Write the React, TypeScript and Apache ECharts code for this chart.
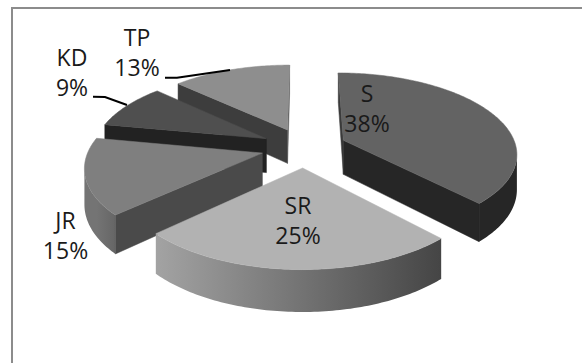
import { useEffect, useRef } from 'react';
import * as echarts from 'echarts';

// Slice data, clockwise from 12 o'clock
const categories = ['S', 'SR', 'JR', 'KD', 'TP'];
const shares = [38, 25, 15, 9, 13];

// Face colours per slice
const topColors = ['#636363', '#b2b2b2', '#7f7f7f', '#4f4f4f', '#8e8e8e'];
const startFaceColors = ['#3a3a3a', '#555555', '#4a4a4a', '#222222', '#3d3d3d'];
const endFaceColors = ['#262626', '#555555', '#4a4a4a', '#2a2a2a', '#5a5a5a'];
const wallStartColors = ['#2e2e2e', '#454545', '#666666', '#282828', '#3a3a3a'];
const wallEndColors = ['#262626', '#a3a3a3', '#747474', '#282828', '#3a3a3a'];

// Label block centres and leader lines
const labelAnchors: number[][] = [[367, 108], [298, 219.5], [65.5, 235], [72, 72], [137, 52]];
const leaders: (number[][] | null)[] = [
  null,
  null,
  null,
  [[93, 96.7], [105, 97], [127, 105]],
  [[165, 77.7], [177, 77.7], [230, 70]],
];

// Camera / solid parameters
const CX = 304;
const CY = 147.5;
const RX = 173;
const RY = 79.5;
const PERSP = 0.15;
const THICK = 34.5;
const EXPLODE = 0.248;

const total = shares.reduce((a, b) => a + b, 0);
const cumulative = shares.map((_, i) => shares.slice(0, i).reduce((a, b) => a + b, 0));

const rad = (d: number) => (d * Math.PI) / 180;

function project(X: number, Z: number, h: number): number[] {
  const w = 1 - PERSP * Z;
  return [CX + (RX * X) / w, CY + (RY * Z + h) / w];
}

function pt(deg: number, r: number, mid: number, h: number): number[] {
  const X = r * Math.sin(rad(deg)) + EXPLODE * Math.sin(rad(mid));
  const Z = -r * Math.cos(rad(deg)) - EXPLODE * Math.cos(rad(mid));
  return project(X, Z, h);
}

function signedArea(p: number[][]): number {
  let s = 0;
  for (let i = 0; i < p.length; i++) {
    const a = p[i];
    const b = p[(i + 1) % p.length];
    s += a[0] * b[1] - b[0] * a[1];
  }
  return s;
}

// Paint back slices first
const depthRank = (() => {
  const depth = shares.map((v, i) => {
    const mid = ((cumulative[i] + v / 2) / total) * 360;
    return -Math.cos(rad(mid));
  });
  const order = depth.map((d, i) => [d, i]).sort((a, b) => a[0] - b[0]);
  const rank: number[] = [];
  order.forEach((o, r) => (rank[o[1]] = r));
  return rank;
})();

function renderItem(params: any, api: any) {
  const i = params.dataIndex;
  const v = api.value(0) as number;
  const a0 = (cumulative[i] / total) * 360;
  const a1 = a0 + (v / total) * 360;
  const mid = (a0 + a1) / 2;
  const base = depthRank[i] * 100;
  const children: any[] = [];
  const poly = (points: number[][], fill: any, z: number) => ({
    type: 'polygon',
    shape: { points },
    style: { fill, stroke: fill, lineWidth: 0.5 },
    z2: base + z,
    silent: true,
  });

  const steps = Math.max(16, Math.ceil((a1 - a0) / 1));
  // outer wall: collect the front-facing angle range and draw it as one band
  let visFrom = -1;
  let visTo = -1;
  for (let k = 0; k < steps; k++) {
    const t0 = a0 + ((a1 - a0) * k) / steps;
    const t1 = a0 + ((a1 - a0) * (k + 1)) / steps;
    const q = [pt(t1, 1, mid, 0), pt(t0, 1, mid, 0), pt(t0, 1, mid, THICK), pt(t1, 1, mid, THICK)];
    if (signedArea(q) > 0) {
      if (visFrom < 0) visFrom = k;
      visTo = k + 1;
    }
  }
  if (visFrom >= 0) {
    const angs: number[] = [];
    for (let k = visFrom; k <= visTo; k++) angs.push(a0 + ((a1 - a0) * k) / steps);
    const upper = angs.map((t) => pt(t, 1, mid, 0));
    const lower = angs.map((t) => pt(t, 1, mid, THICK)).reverse();
    const pStart = pt(a0, 1, mid, 0);
    const pEnd = pt(a1, 1, mid, 0);
    const fill = new echarts.graphic.LinearGradient(
      pStart[0], 0, pEnd[0], 0,
      [
        { offset: 0, color: wallStartColors[i] },
        { offset: 1, color: wallEndColors[i] },
      ],
      true
    );
    children.push({
      type: 'polygon',
      shape: { points: upper.concat(lower) },
      style: { fill, lineWidth: 0 },
      z2: base + 1,
      silent: true,
    });
  }
  // radial cut faces
  const sf = [pt(a0, 1, mid, 0), pt(a0, 0, mid, 0), pt(a0, 0, mid, THICK), pt(a0, 1, mid, THICK)];
  if (signedArea(sf) > 0) children.push(poly(sf, startFaceColors[i], 2));
  const ef = [pt(a1, 0, mid, 0), pt(a1, 1, mid, 0), pt(a1, 1, mid, THICK), pt(a1, 0, mid, THICK)];
  if (signedArea(ef) > 0) children.push(poly(ef, endFaceColors[i], 2));
  // top face
  const top = [pt(a0, 0, mid, 0)];
  for (let k = 0; k <= steps; k++) top.push(pt(a0 + ((a1 - a0) * k) / steps, 1, mid, 0));
  children.push(poly(top, topColors[i], 3));

  // label
  const [lx, ly] = labelAnchors[i];
  children.push({
    type: 'text',
    x: lx,
    y: ly,
    z2: 1000,
    silent: true,
    style: {
      text: categories[i] + '\n' + v + '%',
      fill: '#1a1a1a',
      fontSize: 23,
      fontFamily: '"Open Sans", sans-serif',
      align: 'center',
      verticalAlign: 'middle',
      lineHeight: 30,
    },
  });
  const lead = leaders[i];
  if (lead) {
    children.push({
      type: 'polyline',
      z2: 1000,
      silent: true,
      shape: { points: lead },
      style: { stroke: '#000', lineWidth: 2, fill: null },
    });
  }
  return { type: 'group', children };
}

export default function App() {
  const ref = useRef<HTMLDivElement>(null);
  useEffect(() => {
    if (!ref.current) return;
    const chart = echarts.init(ref.current, null, { renderer: 'svg' });
    chart.setOption({
      animation: false,
      backgroundColor: '#ffffff',
      graphic: [
        {
          type: 'rect',
          z: 0,
          silent: true,
          shape: { x: 12, y: 8, width: 620, height: 420 },
          style: { fill: '#ffffff', stroke: '#8c8c8c', lineWidth: 2 },
        },
      ],
      series: [
        {
          type: 'custom',
          coordinateSystem: 'none',
          renderItem,
          data: shares.map((v) => [v]),
          z: 2,
        },
      ],
    });
    return () => chart.dispose();
  }, []);
  return <div ref={ref} style={{ position: 'fixed', left: 0, top: 0, width: 582, height: 363 }} />;
}
